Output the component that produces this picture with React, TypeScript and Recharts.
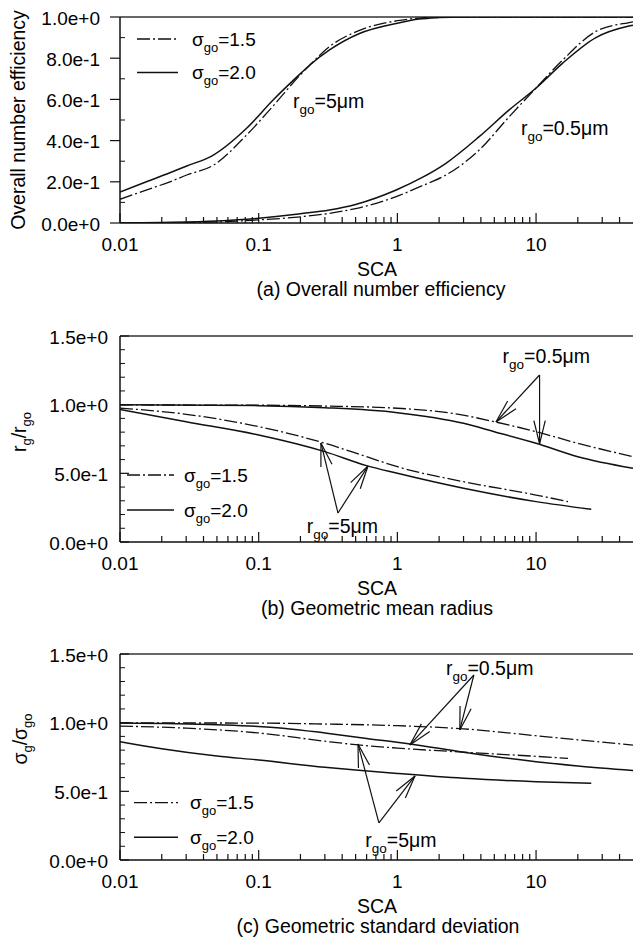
import React from 'react';
import { LineChart, Line, XAxis, YAxis, ReferenceLine, ReferenceDot, Legend } from 'recharts';

const FONT = '"Liberation Sans", Arial, Helvetica, sans-serif';
const INK = '#111';

// ---------------- tick values / labels ----------------
const xTickValues = [0.01, 0.02, 0.03, 0.04, 0.05, 0.06, 0.07, 0.08, 0.09, 0.1, 0.2, 0.3, 0.4, 0.5, 0.6, 0.7, 0.8, 0.9, 1, 2, 3, 4, 5, 6, 7, 8, 9, 10, 20, 30, 40];
const xTickLabels = ['0.01', '0.1', '1', '10'];
const yTicksA = [0, 0.1, 0.2, 0.3, 0.4, 0.5, 0.6, 0.7, 0.8, 0.9, 1.0];
const yMajorA = [0, 0.2, 0.4, 0.6, 0.8, 1.0];
const yTicksBC = [0, 0.1, 0.2, 0.3, 0.4, 0.5, 0.6, 0.7, 0.8, 0.9, 1.0, 1.1, 1.2, 1.3, 1.4, 1.5];
const yMajorBC = [0, 0.5, 1.0, 1.5];

// ---------------- (a) overall number efficiency ----------------
const effR5S15X = [0.01, 0.0147, 0.0229, 0.0303, 0.047, 0.0818, 0.127, 0.2, 0.234, 0.324, 0.533, 1, 1.44, 2, 3, 50];
const effR5S15Y = [0.115, 0.155, 0.2, 0.233, 0.28, 0.427, 0.568, 0.72, 0.767, 0.856, 0.935, 0.982, 0.995, 1.0, 1.0, 1.0];
const effR5S20X = [0.01, 0.0147, 0.0229, 0.0303, 0.0458, 0.0818, 0.127, 0.2, 0.234, 0.324, 0.533, 1, 1.44, 2, 3, 50];
const effR5S20Y = [0.15, 0.194, 0.244, 0.277, 0.325, 0.46, 0.597, 0.725, 0.767, 0.84, 0.92, 0.97, 0.99, 0.997, 1.0, 1.0];
const effR05S15X = [0.01, 0.02, 0.05, 0.1, 0.2, 0.324, 0.5, 0.98, 1.5, 2.24, 3.89, 6.4, 9.96, 15.5, 27, 46, 50];
const effR05S15Y = [0.0, 0.001, 0.005, 0.015, 0.03, 0.047, 0.07, 0.128, 0.18, 0.233, 0.354, 0.516, 0.654, 0.79, 0.93, 0.972, 0.976];
const effR05S20X = [0.01, 0.02, 0.05, 0.1, 0.2, 0.324, 0.5, 0.98, 1.5, 2.24, 3.89, 6.4, 9.96, 15.5, 27, 46, 50];
const effR05S20Y = [0.0, 0.003, 0.01, 0.023, 0.045, 0.063, 0.09, 0.16, 0.22, 0.29, 0.419, 0.549, 0.654, 0.775, 0.9, 0.955, 0.96];

// ---------------- (b) geometric mean radius ----------------
const rgR05S15X = [0.01, 0.1, 0.3, 1, 2.5, 5, 10, 20, 50];
const rgR05S15Y = [0.998, 0.996, 0.99, 0.974, 0.937, 0.876, 0.803, 0.719, 0.621];
const rgR05S20X = [0.01, 0.1, 0.3, 1, 3, 5, 10, 20, 50];
const rgR05S20Y = [0.999, 0.993, 0.978, 0.942, 0.864, 0.803, 0.719, 0.621, 0.537];
const rgR5S15X = [0.01, 0.03, 0.1, 0.3, 0.6, 1, 3, 10, 17];
const rgR5S15Y = [0.975, 0.93, 0.84, 0.719, 0.621, 0.548, 0.439, 0.342, 0.294];
const rgR5S20X = [0.01, 0.03, 0.1, 0.3, 0.6, 1, 3, 10, 25];
const rgR5S20Y = [0.965, 0.875, 0.779, 0.658, 0.556, 0.5, 0.391, 0.294, 0.238];

// ---------------- (c) geometric standard deviation ----------------
const sgR05S15X = [0.01, 0.1, 0.3, 1, 3, 10, 20, 50];
const sgR05S15Y = [0.998, 0.997, 0.99, 0.978, 0.955, 0.905, 0.875, 0.837];
const sgR05S20X = [0.01, 0.05, 0.15, 0.3, 0.6, 1.23, 3, 10, 20, 50];
const sgR05S20Y = [0.998, 0.985, 0.96, 0.925, 0.885, 0.845, 0.785, 0.716, 0.685, 0.652];
const sgR5S15X = [0.01, 0.03, 0.1, 0.3, 0.5, 1, 3, 10, 17];
const sgR5S15Y = [0.975, 0.96, 0.925, 0.865, 0.84, 0.815, 0.785, 0.755, 0.74];
const sgR5S20X = [0.01, 0.02, 0.05, 0.1, 0.3, 0.5, 1, 3, 10, 25];
const sgR5S20Y = [0.862, 0.81, 0.757, 0.728, 0.675, 0.655, 0.63, 0.595, 0.57, 0.558];

// ---------------- annotations (data coordinates) ----------------
const notesA = [
  { x: 0.177, y: 0.558, value: '5' },
  { x: 7.78, y: 0.427, value: '0.5' },
];
const notesB = [
  { x: 5.73, y: 1.304, value: '0.5' },
  { x: 0.222, y: 0.066, value: '5' },
];
const notesC = [
  { x: 2.24, y: 1.347, value: '0.5' },
  { x: 0.587, y: 0.095, value: '5' },
];
const arrowsB = [
  { x1: 10.6, y1: 1.216, x2: 5.14, y2: 0.874 },
  { x1: 10.6, y1: 1.216, x2: 10.6, y2: 0.714 },
  { x1: 0.373, y1: 0.211, x2: 0.281, y2: 0.721 },
  { x1: 0.373, y1: 0.211, x2: 0.614, y2: 0.553 },
];
const arrowsC = [
  { x1: 3.56, y1: 1.347, x2: 1.23, y2: 0.838 },
  { x1: 3.56, y1: 1.347, x2: 2.82, y2: 0.947 },
  { x1: 0.736, y1: 0.27, x2: 0.52, y2: 0.845 },
  { x1: 0.736, y1: 0.27, x2: 1.34, y2: 0.612 },
];

const legendNames = ['1.5', '2.0'];

const pts = (xs: number[], ys: number[]) => xs.map((x, i) => ({ x, y: ys[i] }));

type Part = { t: string; sub?: boolean };

function Rich({ x, y, parts, fs = 19, sfs = 13, dyS = 6, anchor = 'start', rotate = false }: any) {
  let cur = 0;
  const spans = (parts as Part[]).map((p, i) => {
    const target = p.sub ? dyS : 0;
    const dy = target - cur;
    cur = target;
    return (
      <tspan key={i} dy={dy} fontSize={p.sub ? sfs : fs}>
        {p.t}
      </tspan>
    );
  });
  return (
    <text
      x={x}
      y={y}
      textAnchor={anchor}
      fontFamily={FONT}
      fill="#000"
      transform={rotate ? `rotate(-90 ${x} ${y})` : undefined}
    >
      {spans}
    </text>
  );
}

const XTick = (props: any) => {
  const { x, y, payload } = props;
  const v = payload.value;
  const lbl = xTickLabels.find((s) => Math.abs(parseFloat(s) - v) < 1e-9);
  return (
    <g>
      <line x1={x} y1={y} x2={x} y2={y - (lbl ? 10 : 6)} stroke={INK} strokeWidth={1.2} />
      {lbl ? (
        <text x={x} y={y + 28} textAnchor="middle" fontFamily={FONT} fontSize={19} fill="#000">
          {lbl}
        </text>
      ) : null}
    </g>
  );
};

const makeYTick = (majors: number[], outward: boolean, labelGap: number) => (props: any) => {
  const { x, y, payload } = props;
  const v = payload.value;
  const isMajor = majors.some((m) => Math.abs(m - v) < 1e-9);
  return (
    <g>
      {isMajor ? (
        outward ? (
          <line x1={x - 10} y1={y} x2={x} y2={y} stroke={INK} strokeWidth={1.2} />
        ) : (
          <line x1={x} y1={y} x2={x + 9} y2={y} stroke={INK} strokeWidth={1.2} />
        )
      ) : (
        <line x1={x} y1={y} x2={x + 5} y2={y} stroke={INK} strokeWidth={1} />
      )}
      {isMajor ? (
        <text x={x - labelGap} y={y + 7.5} textAnchor="end" fontFamily={FONT} fontSize={19} fill="#000">
          {v.toExponential(1)}
        </text>
      ) : null}
    </g>
  );
};

const ArrowShape = (props: any) => {
  const { x1, y1, x2, y2 } = props;
  const ang = Math.atan2(y1 - y2, x1 - x2);
  const L = 24;
  const a = 0.24;
  const bx1 = x2 + L * Math.cos(ang - a);
  const by1 = y2 + L * Math.sin(ang - a);
  const bx2 = x2 + L * Math.cos(ang + a);
  const by2 = y2 + L * Math.sin(ang + a);
  return (
    <g stroke={INK} strokeWidth={1.2} fill="none">
      <line x1={x1} y1={y1} x2={x2} y2={y2} />
      <line x1={x2} y1={y2} x2={bx1} y2={by1} />
      <line x1={x2} y1={y2} x2={bx2} y2={by2} />
    </g>
  );
};

const DASHDOT = '13 3 2 3';

function Panel(cfg: any) {
  const {
    top, height, marginTop, yMax, yTicks, yMajor, outward, labelGap,
    series, yLabelParts, yLabelX, yLabelDy, caption, captionCx, legend, arrows, notes,
  } = cfg;
  const plotH = 206;
  const axisH = height - marginTop - plotH;
  return (
    <div style={{ position: 'absolute', left: 0, top, width: 633, height }}>
      <LineChart width={633} height={height} margin={{ top: marginTop, right: 0, bottom: 0, left: 0 }}>
        <XAxis
          dataKey="x"
          type="number"
          scale="log"
          domain={[0.01, 50]}
          allowDataOverflow
          ticks={xTickValues}
          interval={0}
          tickSize={0}
          tickMargin={0}
          tickLine={false}
          tick={XTick}
          axisLine={{ stroke: INK, strokeWidth: 1.5 }}
          height={axisH}
          label={{
            content: (p: any) => {
              const vb = p.viewBox || {};
              return (
                <g>
                  <text x={377} y={vb.y + 53} textAnchor="middle" fontFamily={FONT} fontSize={19.5} fill="#000">
                    SCA
                  </text>
                  <text x={captionCx} y={vb.y + 73} textAnchor="middle" fontFamily={FONT} fontSize={19.5} fill="#000">
                    {caption}
                  </text>
                </g>
              );
            },
          }}
        />
        <YAxis
          type="number"
          domain={[0, yMax]}
          allowDataOverflow
          ticks={yTicks}
          interval={0}
          width={120}
          tickSize={0}
          tickMargin={0}
          tickLine={false}
          tick={makeYTick(yMajor, outward, labelGap)}
          axisLine={{ stroke: INK, strokeWidth: 1.5 }}
          label={{
            content: (p: any) => {
              const vb = p.viewBox || {};
              const cy = vb.y + vb.height / 2 + yLabelDy;
              return <Rich x={yLabelX} y={cy} parts={yLabelParts} anchor="middle" rotate fs={19.5} sfs={13} dyS={5} />;
            },
          }}
        />
        <ReferenceLine y={yMax} stroke="#333" strokeWidth={1.6} />
        {series.map((s: any) => (
          <Line
            key={s.name}
            name={s.name}
            data={pts(s.xs, s.ys)}
            dataKey="y"
            type="monotone"
            stroke={INK}
            strokeWidth={s.dashed ? 1.3 : 1.5}
            strokeDasharray={s.dashed ? DASHDOT : undefined}
            dot={false}
            activeDot={false}
            isAnimationActive={false}
            legendType="none"
          />
        ))}
        {(arrows || []).map((a: any, i: number) => (
          <ReferenceLine
            key={'ar' + i}
            segment={[{ x: a.x1, y: a.y1 }, { x: a.x2, y: a.y2 }]}
            shape={ArrowShape}
            ifOverflow="visible"
          />
        ))}
        {notes.map((n: any, i: number) => (
          <ReferenceDot
            key={'nt' + i}
            x={n.x}
            y={n.y}
            r={0}
            ifOverflow="visible"
            shape={(p: any) => (
              <Rich
                x={p.cx}
                y={p.cy}
                parts={[{ t: 'r' }, { t: 'go', sub: true }, { t: '=' + n.value + 'μm' }]}
                fs={19.5}
                sfs={13.5}
                dyS={6}
              />
            )}
          />
        ))}
        <Legend
          layout="horizontal"
          verticalAlign="middle"
          align="center"
          wrapperStyle={{ left: 0, top: 0, width: 633, height: height, pointerEvents: 'none' }}
          content={() => (
            <svg width={633} height={height} style={{ position: 'absolute', left: 0, top: 0 }}>
              {legendNames.map((nm, i) => {
                const ly = legend.ys[i];
                return (
                  <g key={nm}>
                    <line
                      x1={legend.x1}
                      x2={legend.x2}
                      y1={ly}
                      y2={ly}
                      stroke={INK}
                      strokeWidth={i === 0 ? 1.3 : 1.5}
                      strokeDasharray={i === 0 ? DASHDOT : undefined}
                    />
                    <Rich
                      x={legend.textX}
                      y={ly + 6.5}
                      parts={[{ t: 'σ' }, { t: 'go', sub: true }, { t: '=' + nm }]}
                      fs={19}
                      sfs={13}
                      dyS={6}
                    />
                  </g>
                );
              })}
            </svg>
          )}
        />
      </LineChart>
    </div>
  );
}

export default function App() {
  const seriesA = [
    { name: 'r5 s1.5', xs: effR5S15X, ys: effR5S15Y, dashed: true },
    { name: 'r5 s2.0', xs: effR5S20X, ys: effR5S20Y, dashed: false },
    { name: 'r0.5 s1.5', xs: effR05S15X, ys: effR05S15Y, dashed: true },
    { name: 'r0.5 s2.0', xs: effR05S20X, ys: effR05S20Y, dashed: false },
  ];
  const seriesB = [
    { name: 'r0.5 s1.5', xs: rgR05S15X, ys: rgR05S15Y, dashed: true },
    { name: 'r0.5 s2.0', xs: rgR05S20X, ys: rgR05S20Y, dashed: false },
    { name: 'r5 s1.5', xs: rgR5S15X, ys: rgR5S15Y, dashed: true },
    { name: 'r5 s2.0', xs: rgR5S20X, ys: rgR5S20Y, dashed: false },
  ];
  const seriesC = [
    { name: 'r0.5 s1.5', xs: sgR05S15X, ys: sgR05S15Y, dashed: true },
    { name: 'r0.5 s2.0', xs: sgR05S20X, ys: sgR05S20Y, dashed: false },
    { name: 'r5 s1.5', xs: sgR5S15X, ys: sgR5S15Y, dashed: true },
    { name: 'r5 s2.0', xs: sgR5S20X, ys: sgR5S20Y, dashed: false },
  ];
  return (
    <div style={{ position: 'absolute', left: 0, top: 0, width: 633, height: 941, background: '#fff', overflow: 'hidden', fontFamily: FONT }}>
      <Panel
        top={0}
        height={300}
        marginTop={17}
        yMax={1}
        yTicks={yTicksA}
        yMajor={yMajorA}
        outward
        labelGap={20}
        series={seriesA}
        yLabelParts={[{ t: 'Overall number efficiency' }]}
        yLabelX={25}
        yLabelDy={0}
        caption="(a) Overall number efficiency"
        captionCx={381}
        legend={{ x1: 137, x2: 178, textX: 192, ys: [39, 72.5] }}
        arrows={[]}
        notes={notesA}
      />
      <Panel
        top={300}
        height={320}
        marginTop={36}
        yMax={1.5}
        yTicks={yTicksBC}
        yMajor={yMajorBC}
        outward={false}
        labelGap={12}
        series={seriesB}
        yLabelParts={[{ t: 'r' }, { t: 'g', sub: true }, { t: '/r' }, { t: 'go', sub: true }]}
        yLabelX={26}
        yLabelDy={-7}
        caption="(b) Geometric mean radius"
        captionCx={377}
        legend={{ x1: 127, x2: 174, textX: 184, ys: [175, 210] }}
        arrows={arrowsB}
        notes={notesB}
      />
      <Panel
        top={620}
        height={321}
        marginTop={34}
        yMax={1.5}
        yTicks={yTicksBC}
        yMajor={yMajorBC}
        outward={false}
        labelGap={12}
        series={seriesC}
        yLabelParts={[{ t: 'σ' }, { t: 'g', sub: true }, { t: '/σ' }, { t: 'go', sub: true }]}
        yLabelX={27}
        yLabelDy={-18}
        caption="(c) Geometric standard deviation"
        captionCx={378}
        legend={{ x1: 134, x2: 178, textX: 190, ys: [182.7, 217.3] }}
        arrows={arrowsC}
        notes={notesC}
      />
    </div>
  );
}
